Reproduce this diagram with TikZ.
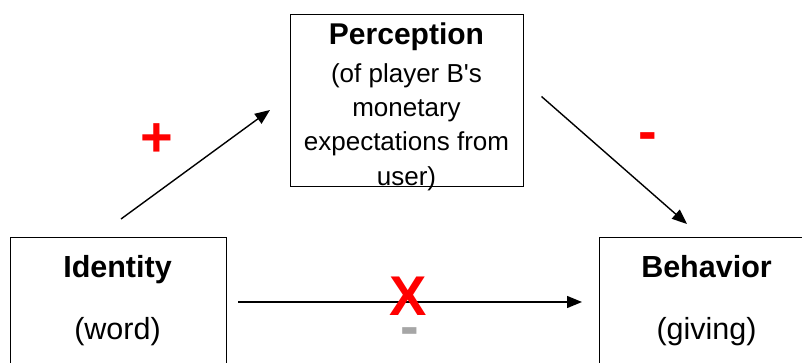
\documentclass[tikz,border=0pt]{standalone}
\usepackage{fontspec}
\setmainfont{Liberation Sans}
\usetikzlibrary{arrows.meta}
\definecolor{signred}{RGB}{255,0,0}
\definecolor{signgray}{RGB}{166,166,166}
\begin{document}
\begin{tikzpicture}[x=1pt,y=1pt,
  box/.style={draw=black, line width=1.4pt, inner sep=0pt, anchor=north west},
  label/.style={inner sep=0pt, align=center, text=black},
  link/.style={line width=1.4pt, -{Triangle[length=15pt,width=12pt]}},
  sign/.style={inner sep=0pt, font=\bfseries\fontsize{56}{56}\selectfont}]
\useasboundingbox (0,0) rectangle (802,363);

% boxes
\node[box, minimum width=233pt, minimum height=172pt] (perc) at (290,349) {};
\node[box, minimum width=216pt, minimum height=140pt] (ident) at (9.5,126) {};
\node[box, minimum width=216pt, minimum height=140pt] (behav) at (598.5,126) {};

% box texts
\node[label, anchor=north, font=\fontsize{26}{34.3}\selectfont] (perctext) at (406.5,340)
  {{\bfseries\fontsize{30}{33}\selectfont Perception}\\[3pt]
   (of player B\textquotesingle s\\ monetary\\ expectations from\\ user)};
\node[label, anchor=base, font=\bfseries\fontsize{30.5}{33}\selectfont] (identtitle) at (117.5,85) {Identity};
\node[label, anchor=base, font=\fontsize{30.5}{33}\selectfont] (identsub) at (117.5,23) {(word)};
\node[label, anchor=base, font=\bfseries\fontsize{30.5}{33}\selectfont] (behavtitle) at (706.5,85) {Behavior};
\node[label, anchor=base, font=\fontsize{30.5}{33}\selectfont] (behavsub) at (706.5,23) {(giving)};

% connector end points
\coordinate (a1) at (121,144);
\coordinate (a2) at (270,253);
\coordinate (b1) at (541.5,266.5);
\coordinate (b2) at (687,139);
\coordinate (c1) at (238,61);
\coordinate (c2) at (582,61);

\draw[link] (a1) -- (a2);
\draw[link] (b1) -- (b2);
\draw[link] (c1) -- (c2);

% effect signs
\node[sign, text=signred] (plus) at (157,223) {+};
\node[sign, text=signred] (minus) at (648,221) {-};
\node[sign, text=signred] (cross) at (408,67) {X};
\node[sign, text=signgray] (minusgray) at (410,26) {-};
\end{tikzpicture}
\end{document}
